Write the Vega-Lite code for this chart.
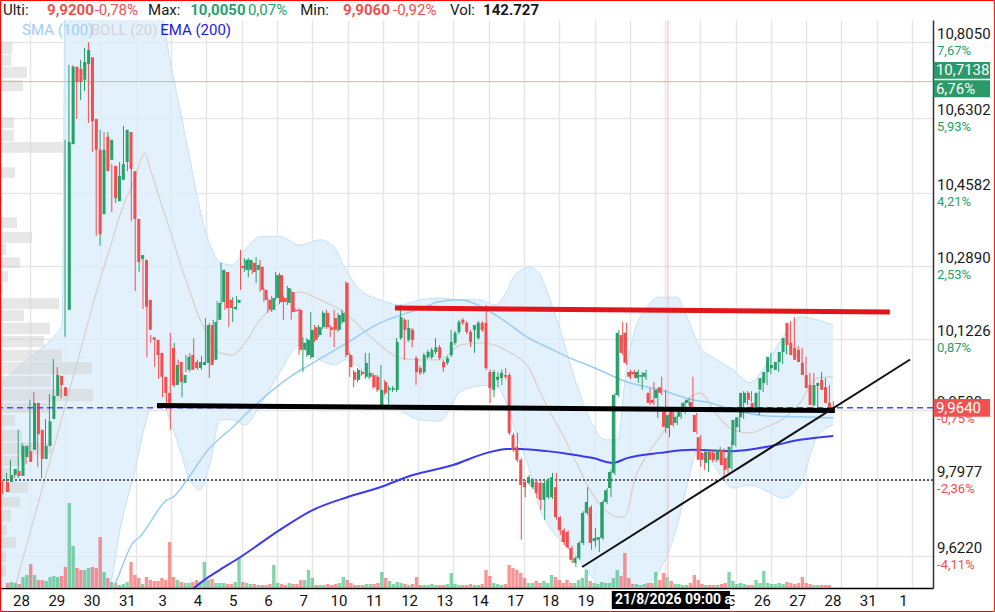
{
"$schema":"https://vega.github.io/schema/vega-lite/v6.json",
"width":933,"height":568,
"autosize":{"type":"none"},
"padding":{"left":0,"top":20,"right":62,"bottom":24},
"background":"#ffffff",
"config":{"view":{"stroke":null},"font":"Roboto"},
"datasets":{
"candles":[
{"n":0,"o":9.793,"h":9.797,"l":9.765,"c":9.770,"v":47500},
{"n":1,"o":9.793,"h":9.814,"l":9.788,"c":9.809,"v":57000},
{"n":2,"o":9.809,"h":9.844,"l":9.805,"c":9.823,"v":47500},
{"n":3,"o":9.818,"h":9.823,"l":9.802,"c":9.807,"v":38000},
{"n":4,"o":9.807,"h":9.913,"l":9.802,"c":9.876,"v":104500},
{"n":5,"o":9.850,"h":9.883,"l":9.846,"c":9.876,"v":123500},
{"n":6,"o":9.864,"h":9.871,"l":9.834,"c":9.839,"v":228000},
{"n":7,"o":9.867,"h":9.982,"l":9.862,"c":9.975,"v":123500},
{"n":8,"o":9.975,"h":10.000,"l":9.899,"c":9.903,"v":76000},
{"n":9,"o":9.913,"h":9.917,"l":9.828,"c":9.846,"v":76000},
{"n":10,"o":9.846,"h":9.880,"l":9.802,"c":9.876,"v":66500},
{"n":11,"o":9.876,"h":9.938,"l":9.871,"c":9.933,"v":104500},
{"n":12,"o":9.938,"h":9.995,"l":9.933,"c":9.991,"v":114000},
{"n":13,"o":9.991,"h":10.076,"l":9.986,"c":10.039,"v":104500},
{"n":14,"o":10.037,"h":10.057,"l":10.011,"c":10.016,"v":114000},
{"n":15,"o":10.011,"h":10.018,"l":9.986,"c":9.991,"v":199500},
{"n":16,"o":10.189,"h":10.580,"l":10.127,"c":10.575,"v":807500},
{"n":17,"o":10.570,"h":10.752,"l":10.566,"c":10.748,"v":399000},
{"n":18,"o":10.748,"h":10.752,"l":10.690,"c":10.713,"v":190000},
{"n":19,"o":10.743,"h":10.748,"l":10.628,"c":10.713,"v":171000},
{"n":20,"o":10.718,"h":10.764,"l":10.672,"c":10.759,"v":171000},
{"n":21,"o":10.754,"h":10.791,"l":10.692,"c":10.787,"v":190000},
{"n":22,"o":10.770,"h":10.805,"l":10.619,"c":10.623,"v":199500},
{"n":23,"o":10.628,"h":10.632,"l":10.552,"c":10.557,"v":190000},
{"n":24,"o":10.557,"h":10.561,"l":10.359,"c":10.363,"v":484500},
{"n":25,"o":10.409,"h":10.603,"l":10.336,"c":10.557,"v":152000},
{"n":26,"o":10.587,"h":10.598,"l":10.504,"c":10.508,"v":95000},
{"n":27,"o":10.534,"h":10.598,"l":10.508,"c":10.580,"v":57000},
{"n":28,"o":10.520,"h":10.524,"l":10.414,"c":10.446,"v":47500},
{"n":29,"o":10.439,"h":10.501,"l":10.435,"c":10.497,"v":28500},
{"n":30,"o":10.488,"h":10.529,"l":10.483,"c":10.524,"v":38000},
{"n":31,"o":10.529,"h":10.612,"l":10.524,"c":10.603,"v":57000},
{"n":32,"o":10.598,"h":10.603,"l":10.508,"c":10.513,"v":247000},
{"n":33,"o":10.508,"h":10.513,"l":10.393,"c":10.398,"v":123500},
{"n":34,"o":10.398,"h":10.402,"l":10.232,"c":10.299,"v":95000},
{"n":35,"o":10.306,"h":10.338,"l":10.276,"c":10.315,"v":38000},
{"n":36,"o":10.304,"h":10.308,"l":10.191,"c":10.196,"v":104500},
{"n":37,"o":10.212,"h":10.216,"l":10.080,"c":10.143,"v":76000},
{"n":38,"o":10.126,"h":10.131,"l":10.113,"c":10.120,"v":66500},
{"n":39,"o":10.120,"h":10.124,"l":10.057,"c":10.085,"v":66500},
{"n":40,"o":10.090,"h":10.094,"l":10.030,"c":10.035,"v":95000},
{"n":41,"o":10.035,"h":10.039,"l":9.988,"c":9.998,"v":76000},
{"n":42,"o":9.998,"h":10.002,"l":9.959,"c":9.975,"v":437000},
{"n":43,"o":10.101,"h":10.136,"l":9.913,"c":10.016,"v":104500},
{"n":44,"o":10.016,"h":10.113,"l":10.011,"c":10.062,"v":76000},
{"n":45,"o":10.069,"h":10.074,"l":10.018,"c":10.023,"v":57000},
{"n":46,"o":10.021,"h":10.044,"l":9.988,"c":10.039,"v":47500},
{"n":47,"o":10.051,"h":10.085,"l":10.046,"c":10.081,"v":47500},
{"n":48,"o":10.085,"h":10.090,"l":10.046,"c":10.051,"v":57000},
{"n":49,"o":10.069,"h":10.124,"l":10.051,"c":10.055,"v":76000},
{"n":50,"o":10.055,"h":10.074,"l":10.051,"c":10.069,"v":57000},
{"n":51,"o":10.062,"h":10.083,"l":10.051,"c":10.069,"v":247000},
{"n":52,"o":10.067,"h":10.170,"l":10.062,"c":10.154,"v":76000},
{"n":53,"o":10.154,"h":10.159,"l":10.032,"c":10.062,"v":85500},
{"n":54,"o":10.074,"h":10.166,"l":10.069,"c":10.161,"v":47500},
{"n":55,"o":10.166,"h":10.209,"l":10.161,"c":10.205,"v":47500},
{"n":56,"o":10.207,"h":10.297,"l":10.202,"c":10.281,"v":47500},
{"n":57,"o":10.276,"h":10.281,"l":10.189,"c":10.193,"v":38000},
{"n":58,"o":10.212,"h":10.216,"l":10.149,"c":10.193,"v":38000},
{"n":59,"o":10.191,"h":10.218,"l":10.161,"c":10.196,"v":57000},
{"n":60,"o":10.205,"h":10.221,"l":10.189,"c":10.212,"v":285000},
{"n":61,"o":10.290,"h":10.327,"l":10.235,"c":10.285,"v":57000},
{"n":62,"o":10.281,"h":10.308,"l":10.276,"c":10.304,"v":47500},
{"n":63,"o":10.281,"h":10.308,"l":10.264,"c":10.304,"v":38000},
{"n":64,"o":10.297,"h":10.301,"l":10.271,"c":10.276,"v":38000},
{"n":65,"o":10.281,"h":10.310,"l":10.251,"c":10.292,"v":28500},
{"n":66,"o":10.288,"h":10.304,"l":10.230,"c":10.235,"v":28500},
{"n":67,"o":10.235,"h":10.239,"l":10.207,"c":10.212,"v":28500},
{"n":68,"o":10.212,"h":10.216,"l":10.182,"c":10.189,"v":38000},
{"n":69,"o":10.189,"h":10.221,"l":10.184,"c":10.216,"v":218500},
{"n":70,"o":10.216,"h":10.276,"l":10.212,"c":10.269,"v":47500},
{"n":71,"o":10.269,"h":10.274,"l":10.202,"c":10.207,"v":38000},
{"n":72,"o":10.216,"h":10.221,"l":10.166,"c":10.207,"v":28500},
{"n":73,"o":10.205,"h":10.244,"l":10.200,"c":10.239,"v":47500},
{"n":74,"o":10.230,"h":10.235,"l":10.166,"c":10.184,"v":38000},
{"n":75,"o":10.189,"h":10.193,"l":10.184,"c":10.186,"v":38000},
{"n":76,"o":10.189,"h":10.193,"l":10.085,"c":10.097,"v":76000},
{"n":77,"o":10.097,"h":10.126,"l":10.046,"c":10.113,"v":76000},
{"n":78,"o":10.085,"h":10.124,"l":10.080,"c":10.120,"v":171000},
{"n":79,"o":10.080,"h":10.184,"l":10.076,"c":10.143,"v":95000},
{"n":80,"o":10.149,"h":10.154,"l":10.115,"c":10.120,"v":28500},
{"n":81,"o":10.131,"h":10.154,"l":10.126,"c":10.149,"v":28500},
{"n":82,"o":10.149,"h":10.186,"l":10.145,"c":10.182,"v":28500},
{"n":83,"o":10.182,"h":10.189,"l":10.145,"c":10.149,"v":38000},
{"n":84,"o":10.149,"h":10.154,"l":10.126,"c":10.143,"v":28500},
{"n":85,"o":10.170,"h":10.189,"l":10.103,"c":10.143,"v":38000},
{"n":86,"o":10.143,"h":10.182,"l":10.138,"c":10.177,"v":47500},
{"n":87,"o":10.161,"h":10.189,"l":10.156,"c":10.182,"v":104500},
{"n":88,"o":10.251,"h":10.255,"l":10.080,"c":10.085,"v":76000},
{"n":89,"o":10.085,"h":10.090,"l":10.035,"c":10.057,"v":47500},
{"n":90,"o":10.046,"h":10.051,"l":10.011,"c":10.028,"v":28500},
{"n":91,"o":10.028,"h":10.055,"l":10.023,"c":10.051,"v":28500},
{"n":92,"o":10.046,"h":10.051,"l":10.037,"c":10.041,"v":28500},
{"n":93,"o":10.035,"h":10.090,"l":10.030,"c":10.067,"v":38000},
{"n":94,"o":10.035,"h":10.090,"l":10.030,"c":10.044,"v":38000},
{"n":95,"o":10.039,"h":10.044,"l":10.007,"c":10.011,"v":38000},
{"n":96,"o":10.035,"h":10.039,"l":10.000,"c":10.005,"v":47500},
{"n":97,"o":9.970,"h":10.062,"l":9.965,"c":10.005,"v":152000},
{"n":98,"o":10.023,"h":10.028,"l":9.993,"c":9.998,"v":95000},
{"n":99,"o":10.005,"h":10.014,"l":9.970,"c":10.009,"v":66500},
{"n":100,"o":10.005,"h":10.014,"l":10.000,"c":10.009,"v":38000},
{"n":101,"o":10.005,"h":10.124,"l":10.000,"c":10.115,"v":57000},
{"n":102,"o":10.124,"h":10.200,"l":10.120,"c":10.172,"v":47500},
{"n":103,"o":10.166,"h":10.170,"l":10.074,"c":10.143,"v":38000},
{"n":104,"o":10.120,"h":10.166,"l":10.115,"c":10.147,"v":28500},
{"n":105,"o":10.143,"h":10.147,"l":10.103,"c":10.120,"v":38000},
{"n":106,"o":10.078,"h":10.083,"l":10.016,"c":10.046,"v":104500},
{"n":107,"o":10.055,"h":10.060,"l":10.039,"c":10.044,"v":28500},
{"n":108,"o":10.046,"h":10.090,"l":10.041,"c":10.085,"v":28500},
{"n":109,"o":10.080,"h":10.097,"l":10.076,"c":10.092,"v":28500},
{"n":110,"o":10.080,"h":10.101,"l":10.076,"c":10.097,"v":38000},
{"n":111,"o":10.092,"h":10.124,"l":10.087,"c":10.103,"v":28500},
{"n":112,"o":10.103,"h":10.108,"l":10.074,"c":10.078,"v":28500},
{"n":113,"o":10.069,"h":10.074,"l":10.046,"c":10.057,"v":28500},
{"n":114,"o":10.067,"h":10.083,"l":10.062,"c":10.078,"v":38000},
{"n":115,"o":10.085,"h":10.143,"l":10.080,"c":10.115,"v":142500},
{"n":116,"o":10.113,"h":10.140,"l":10.108,"c":10.136,"v":38000},
{"n":117,"o":10.138,"h":10.166,"l":10.133,"c":10.161,"v":28500},
{"n":118,"o":10.166,"h":10.170,"l":10.154,"c":10.159,"v":28500},
{"n":119,"o":10.159,"h":10.163,"l":10.133,"c":10.138,"v":28500},
{"n":120,"o":10.138,"h":10.143,"l":10.103,"c":10.115,"v":38000},
{"n":121,"o":10.143,"h":10.154,"l":10.090,"c":10.154,"v":28500},
{"n":122,"o":10.124,"h":10.163,"l":10.120,"c":10.159,"v":28500},
{"n":123,"o":10.159,"h":10.163,"l":10.138,"c":10.143,"v":38000},
{"n":124,"o":10.159,"h":10.200,"l":10.051,"c":10.055,"v":171000},
{"n":125,"o":10.046,"h":10.051,"l":9.975,"c":10.009,"v":114000},
{"n":126,"o":10.005,"h":10.051,"l":9.988,"c":10.046,"v":47500},
{"n":127,"o":10.028,"h":10.046,"l":10.011,"c":10.035,"v":38000},
{"n":128,"o":10.032,"h":10.051,"l":10.016,"c":10.044,"v":28500},
{"n":129,"o":10.039,"h":10.055,"l":10.030,"c":10.035,"v":38000},
{"n":130,"o":10.039,"h":10.044,"l":9.901,"c":9.906,"v":218500},
{"n":131,"o":9.901,"h":9.906,"l":9.862,"c":9.867,"v":190000},
{"n":132,"o":9.874,"h":9.906,"l":9.839,"c":9.844,"v":171000},
{"n":133,"o":9.844,"h":9.848,"l":9.660,"c":9.786,"v":142500},
{"n":134,"o":9.793,"h":9.798,"l":9.758,"c":9.781,"v":95000},
{"n":135,"o":9.791,"h":9.809,"l":9.786,"c":9.804,"v":47500},
{"n":136,"o":9.781,"h":9.802,"l":9.777,"c":9.798,"v":47500},
{"n":137,"o":9.793,"h":9.798,"l":9.756,"c":9.768,"v":66500},
{"n":138,"o":9.791,"h":9.795,"l":9.729,"c":9.752,"v":47500},
{"n":139,"o":9.752,"h":9.795,"l":9.706,"c":9.791,"v":66500},
{"n":140,"o":9.758,"h":9.802,"l":9.754,"c":9.798,"v":47500},
{"n":141,"o":9.758,"h":9.814,"l":9.754,"c":9.804,"v":123500},
{"n":142,"o":9.781,"h":9.814,"l":9.706,"c":9.712,"v":104500},
{"n":143,"o":9.712,"h":9.715,"l":9.671,"c":9.682,"v":76000},
{"n":144,"o":9.682,"h":9.687,"l":9.648,"c":9.655,"v":47500},
{"n":145,"o":9.678,"h":9.682,"l":9.639,"c":9.643,"v":76000},
{"n":146,"o":9.641,"h":9.646,"l":9.607,"c":9.614,"v":47500},
{"n":147,"o":9.607,"h":9.623,"l":9.597,"c":9.618,"v":47500},
{"n":148,"o":9.618,"h":9.657,"l":9.614,"c":9.653,"v":76000},
{"n":149,"o":9.653,"h":9.726,"l":9.648,"c":9.722,"v":95000},
{"n":150,"o":9.722,"h":9.781,"l":9.717,"c":9.747,"v":171000},
{"n":151,"o":9.735,"h":9.740,"l":9.637,"c":9.653,"v":66500},
{"n":152,"o":9.657,"h":9.687,"l":9.643,"c":9.664,"v":47500},
{"n":153,"o":9.660,"h":9.666,"l":9.632,"c":9.666,"v":38000},
{"n":154,"o":9.664,"h":9.752,"l":9.660,"c":9.747,"v":57000},
{"n":155,"o":9.747,"h":9.779,"l":9.742,"c":9.774,"v":47500},
{"n":156,"o":9.779,"h":9.821,"l":9.758,"c":9.816,"v":47500},
{"n":157,"o":9.814,"h":9.998,"l":9.809,"c":9.993,"v":95000},
{"n":158,"o":9.993,"h":10.143,"l":9.988,"c":10.136,"v":171000},
{"n":159,"o":10.131,"h":10.161,"l":10.085,"c":10.090,"v":114000},
{"n":160,"o":10.136,"h":10.159,"l":10.062,"c":10.067,"v":332500},
{"n":161,"o":10.046,"h":10.051,"l":10.030,"c":10.035,"v":95000},
{"n":162,"o":10.046,"h":10.051,"l":10.032,"c":10.041,"v":38000},
{"n":163,"o":10.032,"h":10.051,"l":10.021,"c":10.046,"v":38000},
{"n":164,"o":10.035,"h":10.046,"l":10.005,"c":10.039,"v":28500},
{"n":165,"o":10.035,"h":10.051,"l":10.028,"c":10.044,"v":38000},
{"n":166,"o":9.998,"h":10.009,"l":9.970,"c":9.975,"v":47500},
{"n":167,"o":9.982,"h":10.023,"l":9.970,"c":9.975,"v":47500},
{"n":168,"o":9.986,"h":10.009,"l":9.940,"c":10.005,"v":152000},
{"n":169,"o":10.011,"h":10.035,"l":9.993,"c":9.998,"v":76000},
{"n":170,"o":9.955,"h":10.005,"l":9.906,"c":9.920,"v":142727},
{"n":171,"o":9.917,"h":9.952,"l":9.896,"c":9.947,"v":104500},
{"n":172,"o":9.959,"h":9.963,"l":9.920,"c":9.924,"v":66500},
{"n":173,"o":9.929,"h":9.947,"l":9.924,"c":9.943,"v":38000},
{"n":174,"o":9.943,"h":9.959,"l":9.938,"c":9.954,"v":38000},
{"n":175,"o":9.954,"h":9.979,"l":9.949,"c":9.975,"v":28500},
{"n":176,"o":9.975,"h":9.986,"l":9.970,"c":9.982,"v":28500},
{"n":177,"o":9.977,"h":10.035,"l":9.961,"c":9.965,"v":47500},
{"n":178,"o":9.947,"h":9.952,"l":9.903,"c":9.908,"v":123500},
{"n":179,"o":9.896,"h":9.901,"l":9.828,"c":9.844,"v":76000},
{"n":180,"o":9.860,"h":9.864,"l":9.821,"c":9.844,"v":38000},
{"n":181,"o":9.837,"h":9.867,"l":9.816,"c":9.862,"v":28500},
{"n":182,"o":9.862,"h":9.867,"l":9.839,"c":9.844,"v":28500},
{"n":183,"o":9.860,"h":9.864,"l":9.839,"c":9.844,"v":28500},
{"n":184,"o":9.844,"h":9.874,"l":9.839,"c":9.867,"v":28500},
{"n":185,"o":9.867,"h":9.871,"l":9.805,"c":9.832,"v":38000},
{"n":186,"o":9.848,"h":9.853,"l":9.814,"c":9.821,"v":47500},
{"n":187,"o":9.825,"h":9.890,"l":9.821,"c":9.874,"v":152000},
{"n":188,"o":9.878,"h":9.940,"l":9.874,"c":9.936,"v":66500},
{"n":189,"o":9.919,"h":9.947,"l":9.908,"c":9.942,"v":38000},
{"n":190,"o":9.942,"h":10.002,"l":9.938,"c":9.998,"v":47500},
{"n":191,"o":9.975,"h":10.002,"l":9.970,"c":9.998,"v":38000},
{"n":192,"o":9.998,"h":10.002,"l":9.977,"c":9.982,"v":28500},
{"n":193,"o":9.975,"h":9.979,"l":9.959,"c":9.965,"v":28500},
{"n":194,"o":9.965,"h":10.002,"l":9.947,"c":9.998,"v":76000},
{"n":195,"o":10.005,"h":10.037,"l":10.000,"c":10.032,"v":47500},
{"n":196,"o":10.021,"h":10.067,"l":10.016,"c":10.046,"v":161500},
{"n":197,"o":10.046,"h":10.090,"l":10.041,"c":10.081,"v":47500},
{"n":198,"o":10.055,"h":10.067,"l":10.051,"c":10.062,"v":38000},
{"n":199,"o":10.051,"h":10.074,"l":10.046,"c":10.069,"v":38000},
{"n":200,"o":10.069,"h":10.113,"l":10.064,"c":10.092,"v":47500},
{"n":201,"o":10.092,"h":10.131,"l":10.087,"c":10.124,"v":38000},
{"n":202,"o":10.159,"h":10.163,"l":10.103,"c":10.108,"v":57000},
{"n":203,"o":10.113,"h":10.172,"l":10.080,"c":10.085,"v":47500},
{"n":204,"o":10.101,"h":10.106,"l":10.069,"c":10.074,"v":38000},
{"n":205,"o":10.097,"h":10.101,"l":10.064,"c":10.069,"v":47500},
{"n":206,"o":10.067,"h":10.081,"l":10.035,"c":10.039,"v":104500},
{"n":207,"o":10.039,"h":10.044,"l":10.005,"c":10.009,"v":47500},
{"n":208,"o":10.016,"h":10.044,"l":9.965,"c":9.970,"v":38000},
{"n":209,"o":9.970,"h":10.021,"l":9.965,"c":10.016,"v":28500},
{"n":210,"o":10.014,"h":10.046,"l":10.009,"c":10.021,"v":28500},
{"n":211,"o":10.028,"h":10.032,"l":10.000,"c":10.005,"v":28500},
{"n":212,"o":10.011,"h":10.016,"l":9.970,"c":9.975,"v":28500},
{"n":213,"o":9.975,"h":9.979,"l":9.959,"c":9.964,"v":28500}
],
"bb":[
{"n":-0.67,"u":10.016,"l":9.292,"m":9.427},
{"n":4.46,"u":10.062,"l":9.292,"m":9.593},
{"n":9.59,"u":10.097,"l":9.407,"m":9.759},
{"n":13.44,"u":10.131,"l":9.522,"m":9.883},
{"n":15.23,"u":10.154,"l":9.522,"m":9.940},
{"n":16.26,"u":11.132,"l":9.292,"m":9.975},
{"n":19.85,"u":11.132,"l":9.292,"m":10.092},
{"n":24.97,"u":11.132,"l":9.430,"m":10.258},
{"n":27.54,"u":11.132,"l":9.545,"m":10.331},
{"n":30.10,"u":11.132,"l":9.683,"m":10.407},
{"n":33.95,"u":11.132,"l":9.821,"m":10.492},
{"n":36.51,"u":11.132,"l":9.924,"m":10.550},
{"n":37.79,"u":11.040,"l":9.959,"m":10.515},
{"n":41.13,"u":10.856,"l":9.970,"m":10.421},
{"n":42.92,"u":10.764,"l":9.936,"m":10.373},
{"n":45.49,"u":10.649,"l":9.867,"m":10.297},
{"n":48.05,"u":10.534,"l":9.798,"m":10.230},
{"n":50.62,"u":10.419,"l":9.775,"m":10.166},
{"n":53.18,"u":10.338,"l":9.837,"m":10.124},
{"n":55.74,"u":10.299,"l":9.936,"m":10.090},
{"n":58.82,"u":10.292,"l":9.936,"m":10.085},
{"n":62.15,"u":10.327,"l":9.924,"m":10.113},
{"n":66.0,"u":10.357,"l":9.970,"m":10.166},
{"n":71.13,"u":10.357,"l":10.046,"m":10.205},
{"n":76.26,"u":10.338,"l":10.108,"m":10.230},
{"n":81.38,"u":10.350,"l":10.074,"m":10.212},
{"n":85.23,"u":10.331,"l":10.062,"m":10.196},
{"n":87.79,"u":10.285,"l":10.074,"m":10.182},
{"n":91.64,"u":10.235,"l":10.055,"m":10.150},
{"n":96.77,"u":10.212,"l":10.000,"m":10.108},
{"n":101.9,"u":10.200,"l":9.959,"m":10.078},
{"n":107.03,"u":10.212,"l":9.936,"m":10.074},
{"n":112.15,"u":10.216,"l":9.933,"m":10.074},
{"n":117.28,"u":10.212,"l":10.000,"m":10.108},
{"n":122.41,"u":10.212,"l":10.014,"m":10.113},
{"n":126.26,"u":10.200,"l":10.016,"m":10.108},
{"n":128.82,"u":10.223,"l":9.982,"m":10.097},
{"n":131.38,"u":10.269,"l":9.913,"m":10.085},
{"n":135.23,"u":10.287,"l":9.816,"m":10.051},
{"n":137.79,"u":10.269,"l":9.731,"m":10.000},
{"n":140.36,"u":10.212,"l":9.687,"m":9.954},
{"n":142.92,"u":10.143,"l":9.660,"m":9.913},
{"n":146.77,"u":10.028,"l":9.625,"m":9.844},
{"n":150.62,"u":9.936,"l":9.579,"m":9.775},
{"n":154.46,"u":9.890,"l":9.545,"m":9.729},
{"n":157.8,"u":9.890,"l":9.522,"m":9.713},
{"n":159.59,"u":10.028,"l":9.499,"m":9.713},
{"n":162.15,"u":10.143,"l":9.510,"m":9.802},
{"n":164.72,"u":10.189,"l":9.545,"m":9.848},
{"n":168.56,"u":10.218,"l":9.591,"m":9.897},
{"n":172.92,"u":10.218,"l":9.690,"m":9.954},
{"n":175.49,"u":10.172,"l":9.786,"m":9.982},
{"n":178.82,"u":10.104,"l":9.878,"m":9.998},
{"n":183.18,"u":10.074,"l":9.821,"m":9.947},
{"n":187.28,"u":10.051,"l":9.779,"m":9.913},
{"n":191.64,"u":10.021,"l":9.786,"m":9.906},
{"n":196.0,"u":10.067,"l":9.772,"m":9.920},
{"n":200.1,"u":10.127,"l":9.756,"m":9.938},
{"n":204.46,"u":10.173,"l":9.786,"m":9.975},
{"n":208.82,"u":10.166,"l":9.897,"m":10.032},
{"n":212.92,"u":10.154,"l":9.924,"m":10.035}
],
"sma":[
{"n":27.5,"s":9.530},{"n":29.3,"s":9.568},{"n":33.4,"s":9.653},{"n":35.2,"s":9.667},{"n":42.2,"s":9.752},{"n":43.7,"s":9.758},{"n":47.3,"s":9.798},{"n":52.4,"s":9.864},{"n":59.1,"s":9.920},{"n":63.5,"s":9.959},{"n":69.3,"s":10.005},{"n":73.7,"s":10.035},{"n":79.6,"s":10.067},{"n":88.3,"s":10.113},{"n":96.8,"s":10.159},{"n":103.7,"s":10.182},{"n":109.6,"s":10.200},{"n":111.4,"s":10.207},{"n":117.3,"s":10.212},{"n":124.2,"s":10.189},{"n":128.3,"s":10.166},{"n":134.5,"s":10.126},{"n":141.1,"s":10.097},{"n":145.5,"s":10.078},{"n":151.4,"s":10.057},{"n":160.1,"s":10.023},{"n":168.6,"s":10.005},{"n":177.0,"s":9.982},{"n":181.4,"s":9.975},{"n":187.3,"s":9.959},{"n":196.0,"s":9.945},{"n":204.5,"s":9.943},{"n":213.0,"s":9.940}
],
"ema":[
{"n":46.5,"e":9.530},{"n":52.4,"e":9.572},{"n":55.7,"e":9.591},{"n":60.9,"e":9.620},{"n":71.1,"e":9.683},{"n":79.6,"e":9.729},{"n":88.3,"e":9.758},{"n":96.8,"e":9.781},{"n":105.2,"e":9.809},{"n":115.5,"e":9.832},{"n":124.2,"e":9.860},{"n":129.3,"e":9.869},{"n":132.7,"e":9.869},{"n":139.6,"e":9.864},{"n":145.5,"e":9.857},{"n":151.4,"e":9.848},{"n":156.5,"e":9.837},{"n":160.1,"e":9.848},{"n":168.6,"e":9.860},{"n":177.0,"e":9.867},{"n":187.3,"e":9.864},{"n":196.0,"e":9.874},{"n":204.5,"e":9.890},{"n":213.0,"e":9.899}
],
"prof":[
{"lo":10.777,"hi":10.805,"w":12},{"lo":10.750,"hi":10.775,"w":11},{"lo":10.722,"hi":10.748,"w":27},{"lo":10.692,"hi":10.718,"w":23},
{"lo":10.607,"hi":10.632,"w":14},{"lo":10.577,"hi":10.603,"w":14},{"lo":10.550,"hi":10.575,"w":63},{"lo":10.492,"hi":10.517,"w":15},
{"lo":10.430,"hi":10.455,"w":2},{"lo":10.377,"hi":10.402,"w":17},{"lo":10.343,"hi":10.368,"w":32},{"lo":10.315,"hi":10.340,"w":6},
{"lo":10.285,"hi":10.310,"w":20},{"lo":10.253,"hi":10.278,"w":8},{"lo":10.225,"hi":10.248,"w":3},{"lo":10.191,"hi":10.216,"w":59},
{"lo":10.163,"hi":10.189,"w":24},{"lo":10.133,"hi":10.159,"w":50},{"lo":10.103,"hi":10.129,"w":44},{"lo":10.071,"hi":10.097,"w":62},
{"lo":10.041,"hi":10.069,"w":92},{"lo":10.012,"hi":10.037,"w":51},{"lo":9.979,"hi":10.007,"w":93},{"lo":9.952,"hi":9.975,"w":50},
{"lo":9.922,"hi":9.947,"w":15},{"lo":9.887,"hi":9.913,"w":22},{"lo":9.857,"hi":9.883,"w":52},{"lo":9.830,"hi":9.853,"w":20},
{"lo":9.800,"hi":9.825,"w":10},{"lo":9.768,"hi":9.793,"w":28},{"lo":9.735,"hi":9.758,"w":20},{"lo":9.703,"hi":9.729,"w":11},
{"lo":9.671,"hi":9.694,"w":7},{"lo":9.641,"hi":9.666,"w":16},{"lo":9.609,"hi":9.634,"w":6},{"lo":9.577,"hi":9.602,"w":6}
],
"levels":[{"k":"last","p":10.7138},{"k":"cur","p":9.964},{"k":"prev","p":9.7977}],
"cross":[{"n":170.6}],
"segs":[
{"g":"red","n":100.6,"p":10.1932},{"g":"red","n":227.5,"p":10.1840},
{"g":"blk","n":39.6,"p":9.9690},{"g":"blk","n":213.4,"p":9.9575},
{"g":"trend","n":148.6,"p":9.5975},{"g":"trend","n":232.7,"p":10.0747}
],
"boxes":[
{"g":"up","n1":238.7,"n2":253.2,"p1":10.7590,"p2":10.7205},
{"g":"up","n1":238.7,"n2":253.2,"p1":10.7170,"p2":10.6780},
{"g":"dn","n1":238.7,"n2":253.2,"p1":9.9840,"p2":9.9430},
{"g":"tip","n1":156.2,"n2":186.5,"p1":9.5423,"p2":9.5009}
],
"frame":[{"n1":-0.54,"n2":254.3,"p1":10.9005,"p2":9.4952}],
"ann":[
{"g":"hdr","n":0.1,"p":10.8786,"t":"Ulti:","k":"blk"},
{"g":"hdrb","n":11.4,"p":10.8786,"t":"9,9200","k":"dn"},
{"g":"hdr","n":23.6,"p":10.8786,"t":"-0,78%","k":"dn"},
{"g":"hdr","n":37.3,"p":10.8786,"t":"Max:","k":"blk"},
{"g":"hdrb","n":48.1,"p":10.8786,"t":"10,0050","k":"up"},
{"g":"hdr","n":62.9,"p":10.8786,"t":"0,07%","k":"up"},
{"g":"hdr","n":76.3,"p":10.8786,"t":"Min:","k":"blk"},
{"g":"hdrb","n":87.3,"p":10.8786,"t":"9,9060","k":"dn"},
{"g":"hdr","n":100.1,"p":10.8786,"t":"-0,92%","k":"dn"},
{"g":"hdr","n":114.7,"p":10.8786,"t":"Vol:","k":"blk"},
{"g":"hdrb","n":123.2,"p":10.8786,"t":"142.727","k":"blk"},
{"g":"leg","n":5.0,"p":10.8326,"t":"SMA (100)","k":"sma"},
{"g":"leg","n":22.6,"p":10.8326,"t":"BOLL (20)","k":"boll"},
{"g":"leg","n":40.4,"p":10.8326,"t":"EMA (200)","k":"ema"},
{"g":"px","n":239.6,"p":10.805,"t":"10,8050","k":"blk"},
{"g":"px","n":239.6,"p":10.6302,"t":"10,6302","k":"blk"},
{"g":"px","n":239.6,"p":10.4582,"t":"10,4582","k":"blk"},
{"g":"px","n":239.6,"p":10.289,"t":"10,2890","k":"blk"},
{"g":"px","n":239.6,"p":10.1226,"t":"10,1226","k":"blk"},
{"g":"px","n":239.6,"p":9.958,"t":"9,9580","k":"blk"},
{"g":"px","n":239.6,"p":9.7977,"t":"9,7977","k":"blk"},
{"g":"px","n":239.6,"p":9.622,"t":"9,6220","k":"blk"},
{"g":"pct","n":239.6,"p":10.805,"t":"7,67%","k":"up"},
{"g":"pct","n":239.6,"p":10.6302,"t":"5,93%","k":"up"},
{"g":"pct","n":239.6,"p":10.4582,"t":"4,21%","k":"up"},
{"g":"pct","n":239.6,"p":10.289,"t":"2,53%","k":"up"},
{"g":"pct","n":239.6,"p":10.1226,"t":"0,87%","k":"up"},
{"g":"pct","n":239.6,"p":9.958,"t":"-0,75%","k":"dn"},
{"g":"pct","n":239.6,"p":9.7977,"t":"-2,36%","k":"dn"},
{"g":"pct","n":239.6,"p":9.622,"t":"-4,11%","k":"dn"},
{"g":"tag","n":239.3,"p":10.7397,"t":"10,7138","k":"wht"},
{"g":"tag","n":239.3,"p":10.6975,"t":"6,76%","k":"wht"},
{"g":"tag","n":239.3,"p":9.9635,"t":"9,9640","k":"wht"},
{"g":"tip","n":157.0,"p":9.5216,"t":"21/8/2026 09:00 a.m.","k":"wht"}
]
},
"layer":[
 {"data":{"name":"bb"},
  "mark":{"type":"area","color":"#dcedfb","opacity":0.8,"clip":true,"interpolate":"monotone"},
  "encoding":{"x":{"field":"n","type":"quantitative","scale":{"domain":[-0.667,238.56],"nice":false,"zero":false},"axis":null},
   "y":{"field":"l","type":"quantitative","scale":{"domain":[9.5492,10.8556],"nice":false,"zero":false},"axis":null},
   "y2":{"field":"u"}}},
 {"data":{"name":"bb"},
  "mark":{"type":"line","color":"#c4e1f8","strokeWidth":1,"clip":true,"interpolate":"monotone"},
  "encoding":{"x":{"field":"n","type":"quantitative","scale":{"domain":[-0.667,238.56],"nice":false,"zero":false},"axis":null},
   "y":{"field":"u","type":"quantitative","scale":{"domain":[9.5492,10.8556],"nice":false,"zero":false},"axis":null}}},
 {"data":{"name":"bb"},
  "mark":{"type":"line","color":"#c4e1f8","strokeWidth":1,"clip":true,"interpolate":"monotone"},
  "encoding":{"x":{"field":"n","type":"quantitative","scale":{"domain":[-0.667,238.56],"nice":false,"zero":false},"axis":null},
   "y":{"field":"l","type":"quantitative","scale":{"domain":[9.5492,10.8556],"nice":false,"zero":false},"axis":null}}},
 {"data":{"name":"bb"},
  "mark":{"type":"line","color":"#d8cfc8","strokeWidth":1.2,"clip":true,"interpolate":"monotone"},
  "encoding":{"x":{"field":"n","type":"quantitative","scale":{"domain":[-0.667,238.56],"nice":false,"zero":false},"axis":null},
   "y":{"field":"m","type":"quantitative","scale":{"domain":[9.5492,10.8556],"nice":false,"zero":false},"axis":null}}},
 {"data":{"name":"prof"},
  "mark":{"type":"rect","color":"#cfcfcf","opacity":0.5},
  "encoding":{
   "x":{"field":"w","type":"quantitative","scale":{"domain":[0,933],"nice":false,"zero":false},"axis":null},
   "x2":{"datum":0},
   "y":{"field":"lo","type":"quantitative","scale":{"domain":[9.5492,10.8556],"nice":false,"zero":false},"axis":null},
   "y2":{"field":"hi"}}},
 {"data":{"name":"candles"},
  "mark":{"type":"bar","width":3.4,"opacity":0.6},
  "encoding":{
   "x":{"field":"n","type":"quantitative","scale":{"domain":[-0.667,238.56],"nice":false,"zero":false},"axis":null},
   "y":{"field":"v","type":"quantitative","scale":{"domain":[0,5396000],"nice":false},"axis":null},
   "color":{"condition":{"test":"datum.c>=datum.o","value":"#2fb872"},"value":"#f44f4f"}}},
 {"data":{"name":"levels"},"transform":[{"filter":"datum.k=='last'"}],
  "mark":{"type":"rule","color":"#f6a4a4","strokeWidth":1},
  "encoding":{"y":{"field":"p","type":"quantitative","scale":{"domain":[9.5492,10.8556],"nice":false,"zero":false},"axis":null}}},
 {"data":{"name":"levels"},"transform":[{"filter":"datum.k=='prev'"}],
  "mark":{"type":"rule","color":"#333333","strokeWidth":1.5,"strokeDash":[2,2]},
  "encoding":{"y":{"field":"p","type":"quantitative","scale":{"domain":[9.5492,10.8556],"nice":false,"zero":false},"axis":null}}},
 {"data":{"name":"cross"},
  "mark":{"type":"rule","color":"#f8b6b6","strokeWidth":1},
  "encoding":{"x":{"field":"n","type":"quantitative","scale":{"domain":[-0.667,238.56],"nice":false,"zero":false},"axis":null}}},
 {"data":{"name":"sma"},
  "mark":{"type":"line","color":"#98cdf6","strokeWidth":1.5,"clip":true,"interpolate":"monotone"},
  "encoding":{"x":{"field":"n","type":"quantitative","scale":{"domain":[-0.667,238.56],"nice":false,"zero":false},"axis":null},
   "y":{"field":"s","type":"quantitative","scale":{"domain":[9.5492,10.8556],"nice":false,"zero":false},"axis":null}}},
 {"data":{"name":"ema"},
  "mark":{"type":"line","color":"#3a3af0","strokeWidth":2,"clip":true,"interpolate":"monotone"},
  "encoding":{"x":{"field":"n","type":"quantitative","scale":{"domain":[-0.667,238.56],"nice":false,"zero":false},"axis":null},
   "y":{"field":"e","type":"quantitative","scale":{"domain":[9.5492,10.8556],"nice":false,"zero":false},"axis":null}}},
 {"data":{"name":"candles"},
  "mark":{"type":"rule","strokeWidth":1},
  "encoding":{
   "x":{"field":"n","type":"quantitative","scale":{"domain":[-0.667,238.56],"nice":false,"zero":false},
    "axis":{"orient":"bottom","values":[7.03,16.08,25.12,34.17,43.21,52.26,61.31,70.35,79.40,88.44,97.49,106.54,115.58,124.63,133.67,142.72,151.77,160.81,169.86,178.90,187.95,197.0,206.04,215.09,224.13,233.18],
     "grid":true,"gridColor":"#e6e6e6","gridWidth":1.5,"ticks":false,"domain":true,"domainColor":"#000000","domainWidth":1.5,
     "labelExpr":"['28','29','30','31','3','4','5','6','7','10','11','12','13','14','17','18','19','','','','25','26','27','28','31','1'][round((datum.value-7.03)/9.046)]",
     "labelOffset":-9,"labelFontSize":15,"labelFont":"Roboto","labelColor":"#111111","labelPadding":5,"labelOverlap":false,"labelFlush":false,"title":null}},
   "y":{"field":"l","type":"quantitative","scale":{"domain":[9.5492,10.8556],"nice":false,"zero":false},
    "axis":{"orient":"right","values":[10.805,10.6302,10.4582,10.289,10.1226,9.958,9.7977,9.622],"grid":true,"gridColor":"#e6e6e6","gridWidth":1.5,"ticks":false,"labels":false,"domain":true,"domainColor":"#333333","domainWidth":1.5,"title":null}},
   "y2":{"field":"h"},
   "color":{"condition":{"test":"datum.c>=datum.o","value":"#27a06a"},"value":"#f24e4e"}}},
 {"data":{"name":"candles"},
  "mark":{"type":"bar","width":3},
  "encoding":{
   "x":{"field":"n","type":"quantitative","scale":{"domain":[-0.667,238.56],"nice":false,"zero":false},"axis":null},
   "y":{"field":"o","type":"quantitative","scale":{"domain":[9.5492,10.8556],"nice":false,"zero":false},"axis":null},
   "y2":{"field":"c"},
   "color":{"condition":{"test":"datum.c>=datum.o","value":"#27a06a"},"value":"#f24e4e"}}},
 {"data":{"name":"levels"},"transform":[{"filter":"datum.k=='cur'"}],
  "mark":{"type":"rule","color":"#4b4bff","strokeWidth":1.5,"strokeDash":[6,4]},
  "encoding":{"y":{"field":"p","type":"quantitative","scale":{"domain":[9.5492,10.8556],"nice":false,"zero":false},"axis":null}}},
 {"data":{"name":"segs"},"transform":[{"filter":"datum.g=='red'"}],
  "mark":{"type":"line","color":"#e0161b","strokeWidth":5},
  "encoding":{"x":{"field":"n","type":"quantitative","scale":{"domain":[-0.667,238.56],"nice":false,"zero":false},"axis":null},
   "y":{"field":"p","type":"quantitative","scale":{"domain":[9.5492,10.8556],"nice":false,"zero":false},"axis":null}}},
 {"data":{"name":"segs"},"transform":[{"filter":"datum.g=='blk'"}],
  "mark":{"type":"line","color":"#000000","strokeWidth":5},
  "encoding":{"x":{"field":"n","type":"quantitative","scale":{"domain":[-0.667,238.56],"nice":false,"zero":false},"axis":null},
   "y":{"field":"p","type":"quantitative","scale":{"domain":[9.5492,10.8556],"nice":false,"zero":false},"axis":null}}},
 {"data":{"name":"segs"},"transform":[{"filter":"datum.g=='trend'"}],
  "mark":{"type":"line","color":"#111111","strokeWidth":2},
  "encoding":{"x":{"field":"n","type":"quantitative","scale":{"domain":[-0.667,238.56],"nice":false,"zero":false},"axis":null},
   "y":{"field":"p","type":"quantitative","scale":{"domain":[9.5492,10.8556],"nice":false,"zero":false},"axis":null}}},
 {"data":{"name":"ann"},"transform":[{"filter":"datum.g=='px'"}],
  "mark":{"type":"text","align":"left","baseline":"middle","fontSize":15,"dy":-8},
  "encoding":{"x":{"field":"n","type":"quantitative","scale":{"domain":[-0.667,238.56],"nice":false,"zero":false},"axis":null},
   "y":{"field":"p","type":"quantitative","scale":{"domain":[9.5492,10.8556],"nice":false,"zero":false},"axis":null},
   "text":{"field":"t"},
   "color":{"field":"k","type":"nominal","scale":{"domain":["blk","up","dn","wht","sma","boll","ema"],"range":["#1a1a1a","#26a06c","#f04e4e","#ffffff","#9dcff5","#d4d4d4","#1c1ce0"]},"legend":null}}},
 {"data":{"name":"ann"},"transform":[{"filter":"datum.g=='pct'"}],
  "mark":{"type":"text","align":"left","baseline":"middle","fontSize":13,"dy":9},
  "encoding":{"x":{"field":"n","type":"quantitative","scale":{"domain":[-0.667,238.56],"nice":false,"zero":false},"axis":null},
   "y":{"field":"p","type":"quantitative","scale":{"domain":[9.5492,10.8556],"nice":false,"zero":false},"axis":null},
   "text":{"field":"t"},
   "color":{"field":"k","type":"nominal","scale":{"domain":["blk","up","dn","wht","sma","boll","ema"],"range":["#1a1a1a","#26a06c","#f04e4e","#ffffff","#9dcff5","#d4d4d4","#1c1ce0"]},"legend":null}}},
 {"data":{"name":"boxes"},
  "mark":{"type":"rect"},
  "encoding":{"x":{"field":"n1","type":"quantitative","scale":{"domain":[-0.667,238.56],"nice":false,"zero":false},"axis":null},
   "x2":{"field":"n2"},
   "y":{"field":"p1","type":"quantitative","scale":{"domain":[9.5492,10.8556],"nice":false,"zero":false},"axis":null},
   "y2":{"field":"p2"},
   "fill":{"field":"g","type":"nominal","scale":{"domain":["up","dn","tip"],"range":["#2b9a68","#f05252","#000000"]},"legend":null}}},
 {"data":{"name":"ann"},"transform":[{"filter":"datum.g=='tag'"}],
  "mark":{"type":"text","align":"left","baseline":"middle","fontSize":15},
  "encoding":{"x":{"field":"n","type":"quantitative","scale":{"domain":[-0.667,238.56],"nice":false,"zero":false},"axis":null},
   "y":{"field":"p","type":"quantitative","scale":{"domain":[9.5492,10.8556],"nice":false,"zero":false},"axis":null},
   "text":{"field":"t"},
   "color":{"field":"k","type":"nominal","scale":{"domain":["blk","up","dn","wht","sma","boll","ema"],"range":["#1a1a1a","#26a06c","#f04e4e","#ffffff","#9dcff5","#d4d4d4","#1c1ce0"]},"legend":null}}},
 {"data":{"name":"ann"},"transform":[{"filter":"datum.g=='tip'"}],
  "mark":{"type":"text","align":"left","baseline":"middle","fontSize":14,"fontWeight":"bold"},
  "encoding":{"x":{"field":"n","type":"quantitative","scale":{"domain":[-0.667,238.56],"nice":false,"zero":false},"axis":null},
   "y":{"field":"p","type":"quantitative","scale":{"domain":[9.5492,10.8556],"nice":false,"zero":false},"axis":null},
   "text":{"field":"t"},
   "color":{"field":"k","type":"nominal","scale":{"domain":["blk","up","dn","wht","sma","boll","ema"],"range":["#1a1a1a","#26a06c","#f04e4e","#ffffff","#9dcff5","#d4d4d4","#1c1ce0"]},"legend":null}}},
 {"data":{"name":"ann"},"transform":[{"filter":"datum.g=='hdr' || datum.g=='leg'"}],
  "mark":{"type":"text","align":"left","baseline":"middle","fontSize":15},
  "encoding":{"x":{"field":"n","type":"quantitative","scale":{"domain":[-0.667,238.56],"nice":false,"zero":false},"axis":null},
   "y":{"field":"p","type":"quantitative","scale":{"domain":[9.5492,10.8556],"nice":false,"zero":false},"axis":null},
   "text":{"field":"t"},
   "color":{"field":"k","type":"nominal","scale":{"domain":["blk","up","dn","wht","sma","boll","ema"],"range":["#1a1a1a","#26a06c","#f04e4e","#ffffff","#9dcff5","#d4d4d4","#1c1ce0"]},"legend":null}}},
 {"data":{"name":"ann"},"transform":[{"filter":"datum.g=='hdrb'"}],
  "mark":{"type":"text","align":"left","baseline":"middle","fontSize":15,"fontWeight":"bold"},
  "encoding":{"x":{"field":"n","type":"quantitative","scale":{"domain":[-0.667,238.56],"nice":false,"zero":false},"axis":null},
   "y":{"field":"p","type":"quantitative","scale":{"domain":[9.5492,10.8556],"nice":false,"zero":false},"axis":null},
   "text":{"field":"t"},
   "color":{"field":"k","type":"nominal","scale":{"domain":["blk","up","dn","wht","sma","boll","ema"],"range":["#1a1a1a","#26a06c","#f04e4e","#ffffff","#9dcff5","#d4d4d4","#1c1ce0"]},"legend":null}}},
 {"data":{"name":"frame"},
  "mark":{"type":"rect","fill":null,"fillOpacity":0,"stroke":"#ff0000","strokeWidth":1},
  "encoding":{"x":{"field":"n1","type":"quantitative","scale":{"domain":[-0.667,238.56],"nice":false,"zero":false},"axis":null},
   "x2":{"field":"n2"},
   "y":{"field":"p1","type":"quantitative","scale":{"domain":[9.5492,10.8556],"nice":false,"zero":false},"axis":null},
   "y2":{"field":"p2"}}}
],
"resolve":{"scale":{"x":"independent","y":"independent"}}
}
